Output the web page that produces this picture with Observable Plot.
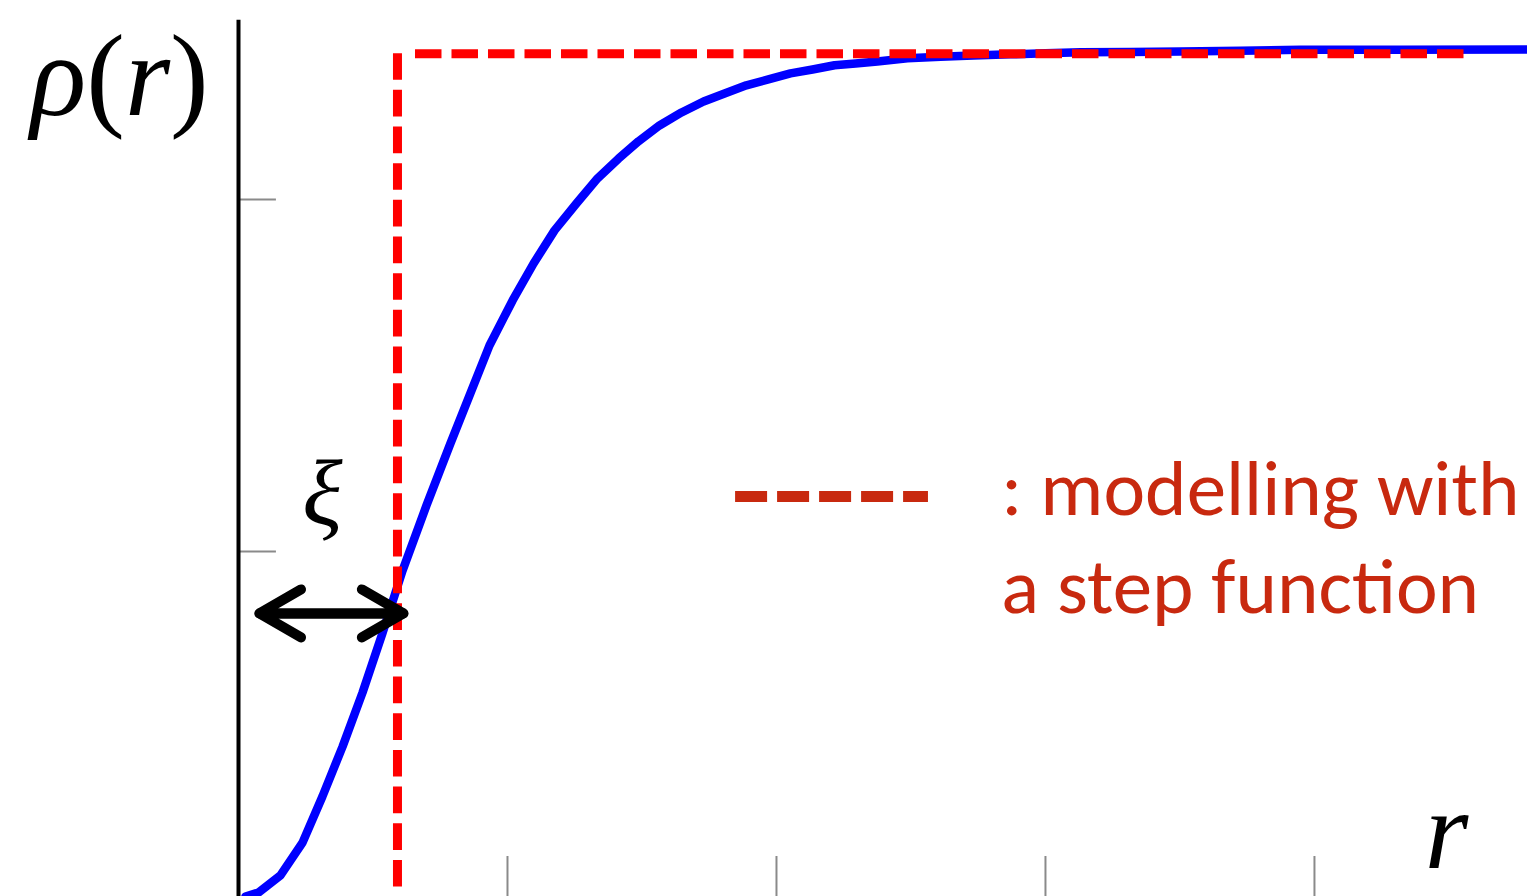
<!DOCTYPE html>
<html>
<head>
<meta charset="utf-8">
<script src="https://cdn.jsdelivr.net/npm/d3@7"></script>
<script src="https://cdn.jsdelivr.net/npm/@observablehq/plot@0.6"></script>
<style>
  html, body { margin: 0; padding: 0; background: #fff; }
  #chart svg { display: block; }
</style>
</head>
<body>
<div id="chart"></div>
<script>
// Density profile rho(r) near a boundary, sampled along r
const radius = [0.026, 0.074, 0.156, 0.238, 0.312, 0.387, 0.461, 0.535, 0.610, 0.699,
  0.788, 0.862, 0.933, 1.019, 1.097, 1.175, 1.257, 1.335, 1.413, 1.487,
  1.565, 1.647, 1.729, 1.807, 1.888, 1.970, 2.052, 2.134, 2.216, 2.294,
  2.375, 2.487, 2.610, 2.732, 2.870, 3.000, 3.130, 3.316, 3.502, 3.725,
  3.948, 4.320, 4.792];
const density = [0.020, 0.031, 0.080, 0.173, 0.304, 0.446, 0.599, 0.767, 0.946, 1.131,
  1.307, 1.449, 1.585, 1.713, 1.818, 1.912, 1.989, 2.060, 2.116, 2.165,
  2.210, 2.247, 2.278, 2.301, 2.324, 2.341, 2.358, 2.369, 2.381, 2.386,
  2.392, 2.401, 2.405, 2.409, 2.412, 2.415, 2.418, 2.419, 2.420, 2.422,
  2.425, 2.425, 2.426];

// Step-function model: zero inside the edge, constant bulk density outside
const stepEdge = [0.591];
const stepLevel = [2.414];
const stepFloor = [0.045];
const stepEnd = [4.558];
const stepStart = [0.658];

// Width xi of the transition region
const xiFrom = [0.078];
const xiTo = [0.613];
const xiLevel = [0.824];

// Axis ticks
const xTicks = [1, 2, 3, 4];
const yTicks = [1, 2];

// Labels
const yLabel = ["ρ(r)"];
const xLabel = ["r"];
const xiLabel = ["ξ"];
const legendText = [": modelling with\na step function"];

const curve = radius.map((r, i) => ({r, rho: density[i]}));
const legendColor = "#c8290f";
const mathFont = "Liberation Serif, DejaVu Serif, serif";

const chart = Plot.plot({
  width: 1527,
  height: 896,
  marginLeft: 238,
  marginRight: 0,
  marginTop: 0,
  marginBottom: 0,
  x: {domain: [0, 4.792], axis: null},
  y: {domain: [0, 2.565], range: [903, 0], axis: null},
  style: {background: "white", overflow: "visible"},
  marks: [
    // tick marks along r (bottom) and rho (left)
    Plot.ruleX(xTicks, {x: d => d, y1: 0, y2: 0.1335, stroke: "#8a8a8a", strokeWidth: 2}),
    Plot.ruleY(yTicks, {y: d => d, x1: 0, x2: 0.141, stroke: "#8a8a8a", strokeWidth: 2}),
    // vertical axis line
    Plot.ruleX([0], {y1: 0, y2: 2.509, stroke: "black", strokeWidth: 4}),
    // the smooth profile
    Plot.line(curve, {x: "r", y: "rho", stroke: "#0000ff", strokeWidth: 8.5, curve: "linear"}),
    // the step model
    Plot.ruleX(stepEdge, {x: d => d, y1: stepLevel[0], y2: stepFloor[0],
      stroke: "#ff0000", strokeWidth: 9, strokeDasharray: "26.67,10"}),
    Plot.ruleY(stepLevel, {y: d => d, x1: stepStart[0], x2: stepEnd[0],
      stroke: "#ff0000", strokeWidth: 9, strokeDasharray: "26.5,10"}),
    // legend swatch and text
    Plot.ruleY([1.156], {y: d => d, x1: 1.848, x2: 2.565,
      stroke: legendColor, strokeWidth: 11, strokeDasharray: "32,10"}),
    Plot.text(legendText, {x: 2.836, y: 0.824, text: d => d, textAnchor: "start",
      lineAnchor: "bottom", lineHeight: 1.24, fontSize: 79, fill: legendColor,
      fontFamily: "Carlito, Calibri, Lato, sans-serif"}),
    // math labels
    Plot.text(yLabel, {x: -0.773, y: 2.239, text: d => d, textAnchor: "start",
      lineAnchor: "bottom", fontSize: 116, fontFamily: mathFont, fill: "black"}),
    Plot.text(xLabel, {x: 4.491, y: 0.102, text: d => d, textAnchor: "middle",
      lineAnchor: "bottom", fontSize: 112, fontStyle: "italic", fontFamily: mathFont, fill: "black"}),
    Plot.text(xiLabel, {x: 0.312, y: 1.078, text: d => d, textAnchor: "middle",
      lineAnchor: "bottom", fontSize: 94, fontStyle: "italic", fontFamily: mathFont, fill: "black"}),
    // double-headed arrow for xi: two arrows sharing the same shaft
    Plot.arrow(xiFrom, {x1: xiTo[0], x2: d => d, y1: xiLevel[0], y2: xiLevel[0],
      stroke: "black", strokeWidth: 10, headAngle: 60, headLength: 7.8,
      strokeLinecap: "round", strokeLinejoin: "miter"}),
    Plot.arrow(xiTo, {x1: xiFrom[0], x2: d => d, y1: xiLevel[0], y2: xiLevel[0],
      stroke: "black", strokeWidth: 10, headAngle: 60, headLength: 7.8,
      strokeLinecap: "round", strokeLinejoin: "miter"})
  ]
});

// rho(r) with italic symbols and upright parentheses
d3.select(chart).selectAll("text").each(function () {
  if (this.textContent === "ρ(r)") {
    const t = d3.select(this);
    t.text(null);
    t.append("tspan").attr("font-style", "italic").text("ρ");
    t.append("tspan").text("(");
    t.append("tspan").attr("font-style", "italic").text("r");
    t.append("tspan").text(")");
  }
});

document.getElementById("chart").appendChild(chart);
</script>
</body>
</html>
